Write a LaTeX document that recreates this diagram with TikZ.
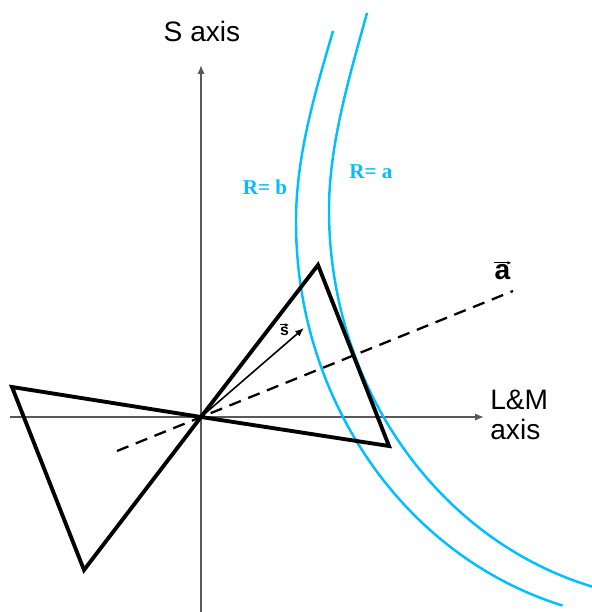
\documentclass[tikz,border=0pt]{standalone}
\usepackage{fontspec}
\setmainfont{Liberation Sans}
\newfontfamily\rfont{Liberation Serif}
\usepackage{tikz}
\usetikzlibrary{arrows.meta}
\definecolor{rcyan}{RGB}{0,191,255}

\begin{document}
\begin{tikzpicture}[scale=0.2,
	axisline/.style={draw=black!65, line width=0.8pt, -{Latex[length=5pt,width=4pt]}},
	tri/.style={black, line width=2.2pt, line join=miter},
	shell/.style={rcyan, line width=1.4pt},
	rlabel/.style={rcyan, inner sep=0pt, font=\rfont\bfseries\fontsize{12}{14}\selectfont},
	vecarrow/.style={black, line width=0.5pt, -{Latex[length=2.5pt,width=2pt]}},
	axislabel/.style={inner sep=0pt, align=left, font=\fontsize{16}{17}\selectfont}]
	\useasboundingbox (-20.1,-19.5) rectangle (39.1,41.7);
	\coordinate (o) at (0,0);
	% axes
	\coordinate (xstart) at (-19.1,0);
	\coordinate (xend) at (28.3,0);
	\coordinate (ystart) at (0,-19.5);
	\coordinate (yend) at (0,35.2);
	\draw[axisline] (xstart) -- (xend);
	\draw[axisline] (ystart) -- (yend);
	\node[axislabel] (saxis) at (0.1,38.6) {S axis};
	\node[axislabel, anchor=west] (lmaxis) at (28.9,0.2) {L\&M\\axis};
	% the two shells
	\coordinate (btop) at (13.2,38.6);
	\coordinate (bleft) at (9.5,19.5);
	\coordinate (atop) at (16.6,40.4);
	\coordinate (aleft) at (12.8,20.7);
	\draw[shell] (btop) .. controls (11.3,32.1) and (9.5,26.0) .. (bleft)
		arc[start angle=180, end angle=254, x radius=36.8, y radius=39.9];
	\draw[shell] (atop) .. controls (14.8,33.9) and (12.8,27.2) .. (aleft)
		arc[start angle=180, end angle=260, x radius=36.0, y radius=39.1];
	\node[rlabel] (rb) at (6.4,23.0) {R= b};
	\node[rlabel] (ra) at (17.0,24.5) {R= a};
	% bow tie
	\coordinate (t) at (11.7,15.2);
	\coordinate (r) at (18.8,-2.9);
	\coordinate (l) at (-18.9,3.0);
	\coordinate (b) at (-11.7,-15.3);
	\draw[tri] (o) -- (t) -- (r) -- cycle;
	\draw[tri] (o) -- (l) -- (b) -- cycle;
	% direction a and vector s
	\coordinate (dstart) at (-8.4,-3.4);
	\coordinate (dend) at (31.2,12.6);
	\draw[black, line width=1.3pt, dash pattern=on 7pt off 4.5pt] (dstart) -- (dend);
	\node[inner sep=0pt, font=\bfseries\fontsize{16}{18}\selectfont] (alabel) at (30.15,14.45) {a};
	\draw[vecarrow] ([yshift=4.5pt]alabel.north west) -- ([xshift=3pt,yshift=4.5pt]alabel.north east);
	\coordinate (stip) at (10.3,8.9);
	\draw[black, line width=0.9pt, -{Latex[length=5pt,width=4pt]}] (o) -- (stip);
	\node[inner sep=0pt, font=\bfseries\fontsize{9}{10}\selectfont] (slabel) at (8.35,8.6) {s};
	\draw[vecarrow] ([yshift=4pt]slabel.north west) -- ([yshift=4pt]slabel.north east);
\end{tikzpicture}
\end{document}
